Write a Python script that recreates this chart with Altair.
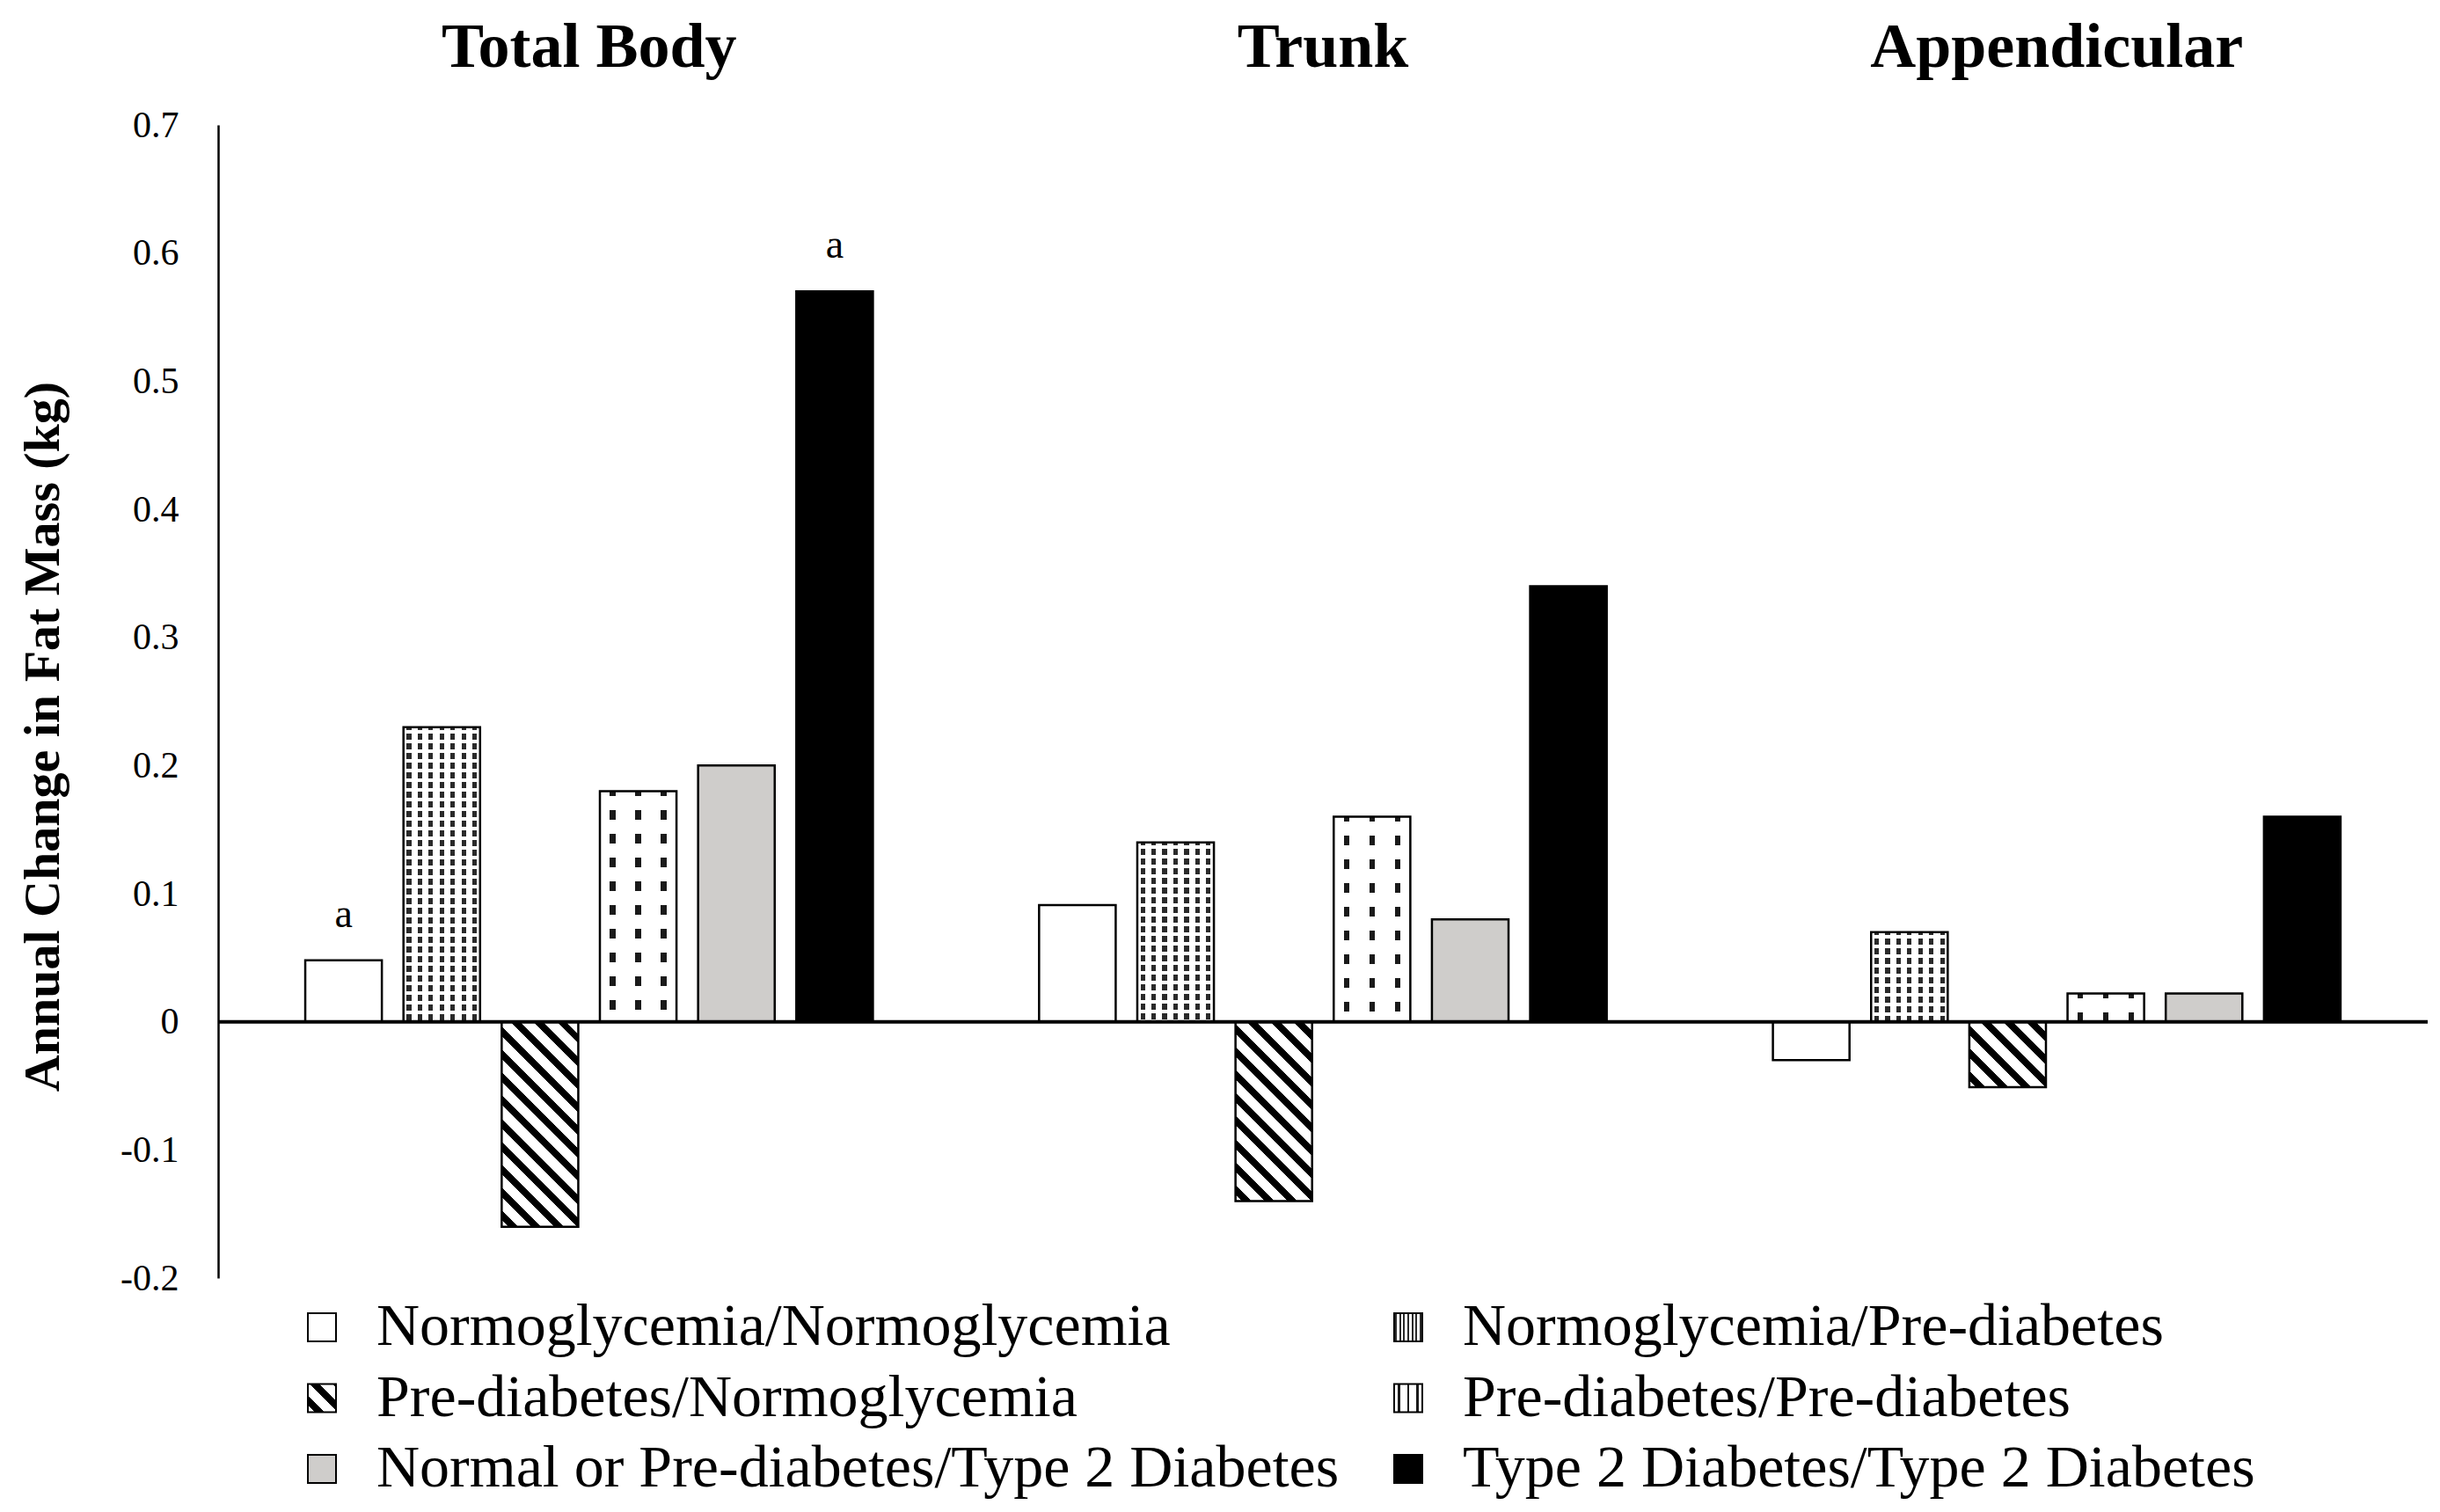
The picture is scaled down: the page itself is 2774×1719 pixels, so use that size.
import math
import altair as alt
import pandas as pd

# ---------------- data ----------------
groups = ["Total Body", "Trunk", "Appendicular"]
categories = [
    "Normoglycemia/Normoglycemia",
    "Normoglycemia/Pre-diabetes",
    "Pre-diabetes/Normoglycemia",
    "Pre-diabetes/Pre-diabetes",
    "Normal or Pre-diabetes/Type 2 Diabetes",
    "Type 2 Diabetes/Type 2 Diabetes",
]
total_body = [0.048, 0.23, -0.16, 0.18, 0.20, 0.57]
trunk = [0.091, 0.14, -0.14, 0.16, 0.08, 0.34]
appendicular = [-0.03, 0.07, -0.051, 0.022, 0.022, 0.16]
y_ticks = [-0.2, -0.1, 0, 0.1, 0.2, 0.3, 0.4, 0.5, 0.6, 0.7]
annot_groups = ["Total Body", "Total Body"]
annot_categories = [categories[0], categories[5]]
annot_labels = ["a", "a"]
legend_cols = [0, 1, 0, 1, 0, 1]
legend_rows = [0, 0, 1, 1, 2, 2]

# ---------------- layout / style ----------------
SERIF = "Liberation Serif"
W, H = 2512, 1311
Y_MIN, Y_MAX = -0.2, 0.7
G_PI, G_PO = 0.197, 0.104
C_PI, C_PO = 0.22, 0.11
SYM = 32

step_g = W / (len(groups) - G_PI + 2 * G_PO)
band_g = step_g * (1 - G_PI)
step_c = band_g / (len(categories) - C_PI + 2 * C_PO)
bar_w = step_c * (1 - C_PI)
px_per_unit = H / (Y_MAX - Y_MIN)


def centered_stops(n, frac, dark, light):
    """n (possibly fractional) periods over [0,1]: light / dark(frac) / light."""
    stops = []
    i = 0
    while i < n:
        a = i / n
        b = (i + (1 - frac) / 2) / n
        c = (i + (1 + frac) / 2) / n
        d = (i + 1) / n
        for off, col in [(a, light), (b, light), (b, dark), (c, dark), (c, light), (d, light)]:
            stops.append({"offset": round(min(off, 1.0), 5), "color": col})
        i += 1
    return stops


def columns(n, frac, dark, light="white"):
    return {"gradient": "linear", "x1": 0, "y1": 0, "x2": 1, "y2": 0,
            "stops": centered_stops(n, frac, dark, light)}


def bands(n, frac, dark, light):
    return {"gradient": "linear", "x1": 0, "y1": 0, "x2": 0, "y2": 1,
            "stops": centered_stops(n, frac, dark, light)}


def diagonal(w, h, period=18.5, frac=0.42):
    r = h / w
    k = (1 + r) / (1 + r * r)
    n = (w + h) / math.sqrt(2) / period
    return {"gradient": "linear", "x1": 0, "y1": 1, "x2": round(k, 5), "y2": round(1 - k * r, 5),
            "stops": centered_stops(n, frac, "black", "white")}


def base_fill(ci, w, h):
    if ci == 0:
        return "white"
    if ci == 1:
        return columns(7, 0.42, "#2a2a2a")
    if ci == 2:
        return diagonal(w, h)
    if ci == 3:
        return columns(3, 0.22, "#1a1a1a")
    if ci == 4:
        return "#cfcdcb"
    return "black"


def overlay_fill(ci, h):
    if ci == 1:
        return bands(max(h / 11.0, 1), 0.4, "white", "rgba(255,255,255,0)")
    if ci == 3:
        return bands(max(h / 27.0, 1), 0.62, "white", "rgba(255,255,255,0)")
    return None


# ---------------- tables ----------------
series = [total_body, trunk, appendicular]
rows = []
for g, vals in zip(groups, series):
    for c, v in zip(categories, vals):
        rows.append({"group": g, "category": c, "value": v})
df = pd.DataFrame(rows)

lookup = {(r["group"], r["category"]): r["value"] for r in rows}
annot_df = pd.DataFrame({
    "group": annot_groups,
    "category": annot_categories,
    "label": annot_labels,
    "value": [lookup[(g, c)] for g, c in zip(annot_groups, annot_categories)],
})

legend_df = pd.DataFrame({"category": categories, "col": legend_cols, "row": legend_rows})

# ---------------- fill conditions ----------------
base_conds, over_conds = [], []
for r in rows:
    ci = categories.index(r["category"])
    h = abs(r["value"]) * px_per_unit
    test = f"datum.group === '{r['group']}' && datum.category === '{r['category']}'"
    base_conds.append({"test": test, "value": base_fill(ci, bar_w, h)})
    ov = overlay_fill(ci, h)
    if ov is not None:
        over_conds.append({"test": test, "value": ov})

legend_conds = []
for ci, c in enumerate(categories):
    legend_conds.append({"test": f"datum.category === '{c}'", "value": base_fill(ci, SYM, SYM)})

# ---------------- encodings ----------------
x_enc = alt.X(
    "group:N",
    sort=groups,
    scale=alt.Scale(domain=groups, paddingInner=G_PI, paddingOuter=G_PO),
    axis=alt.Axis(orient="top", title=None, domain=False, ticks=False, labelAngle=0,
                  labelFont=SERIF, labelFontSize=72, labelFontWeight="bold",
                  labelColor="black", labelPadding=52, labelLimit=0),
)
xo_enc = alt.XOffset("category:N", sort=categories,
                     scale=alt.Scale(domain=categories, paddingInner=C_PI, paddingOuter=C_PO))
y_enc = alt.Y(
    "value:Q",
    scale=alt.Scale(domain=[Y_MIN, Y_MAX], nice=False, zero=False),
    axis=alt.Axis(
        title="Annual Change in Fat Mass (kg)",
        values=y_ticks,
        labelExpr="datum.value < 0 ? '-' + format(-datum.value, '~g') : format(datum.value, '~g')",
        grid=False, ticks=False, domain=True, domainColor="black", domainWidth=2.5,
        labelFont=SERIF, labelFontSize=42, labelColor="black", labelPadding=45, labelFlush=False,
        titleFont=SERIF, titleFontSize=58, titleFontWeight="bold", titleColor="black",
        titlePadding=58, titleY=695, titleLimit=0,
    ),
)

bars_base = alt.Chart(df).mark_bar().encode(
    x=x_enc, xOffset=xo_enc, y=y_enc,
    fill=alt.value("white", condition=base_conds),
)
bars_over = alt.Chart(df).mark_bar().encode(
    x=x_enc, xOffset=xo_enc, y=y_enc,
    fill=alt.value("rgba(255,255,255,0)", condition=over_conds),
)
bars_outline = alt.Chart(df).mark_bar(fillOpacity=0, stroke="black", strokeWidth=2.5).encode(
    x=x_enc, xOffset=xo_enc, y=y_enc,
)
zero_rule = alt.Chart(pd.DataFrame({"z": [0]})).mark_rule(color="black", strokeWidth=4).encode(
    y=alt.Y("z:Q", scale=alt.Scale(domain=[Y_MIN, Y_MAX], nice=False, zero=False)),
)
annots = alt.Chart(annot_df).mark_text(
    font=SERIF, fontSize=46, color="black", baseline="alphabetic", dy=-38
).encode(x=x_enc, xOffset=xo_enc, y=y_enc, text="label:N")

main = alt.layer(bars_base, bars_over, bars_outline, zero_rule, annots)

lx = alt.X("col:Q", scale=alt.Scale(domain=[0, 1], range=[118, 1353], nice=False, zero=False), axis=None)
ly = alt.Y("row:Q", scale=alt.Scale(domain=[0, 2], range=[1367, 1528], nice=False, zero=False), axis=None)

leg_sym = alt.Chart(legend_df).mark_square(size=SYM * SYM, opacity=1).encode(
    x=lx, y=ly, fill=alt.value("white", condition=legend_conds),
)
leg_out = alt.Chart(legend_df).mark_square(size=SYM * SYM, fillOpacity=0, stroke="black",
                                           strokeWidth=2).encode(x=lx, y=ly)
leg_txt = alt.Chart(legend_df).mark_text(
    align="left", baseline="middle", dx=62, font=SERIF, fontSize=68, color="black"
).encode(x=lx, y=ly, text="category:N")
legend = alt.layer(leg_sym, leg_out, leg_txt)

chart = (
    alt.layer(main, legend)
    .resolve_scale(x="independent", y="independent")
    .properties(
        width=W,
        height=H,
        autosize=alt.AutoSizeParams(type="none"),
        padding={"left": 240, "top": 134, "right": 0, "bottom": 258},
        background="white",
    )
    .configure_view(strokeWidth=0)
)

chart.save("out.html", embed_options={"renderer": "svg", "actions": False})
